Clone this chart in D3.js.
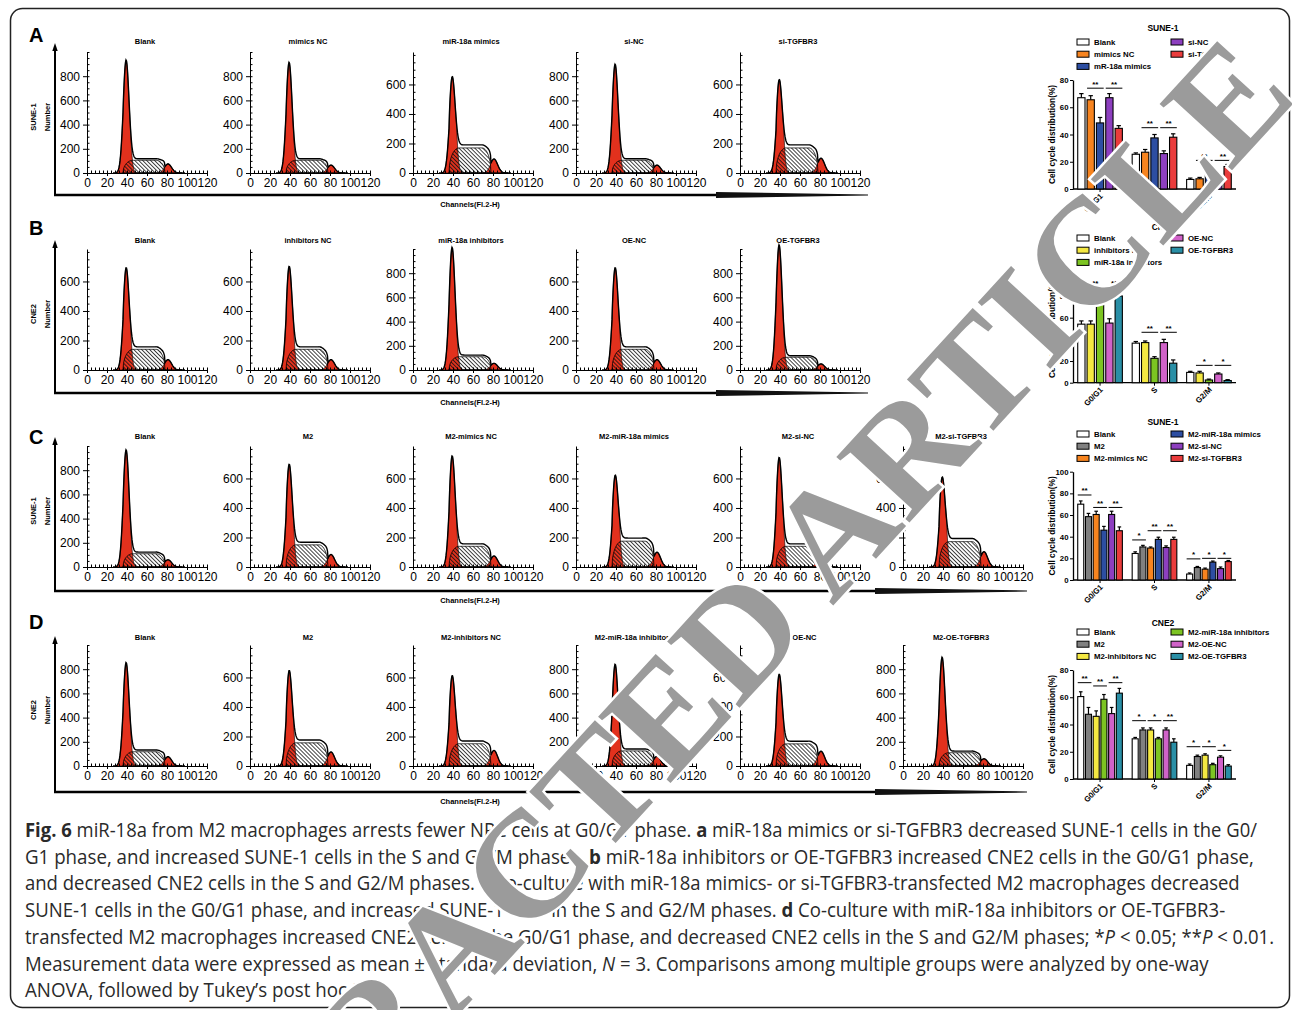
<!DOCTYPE html>
<html lang="en">
<head>
<meta charset="utf-8">
<title>Fig. 6</title>
<script src="https://cdn.jsdelivr.net/npm/d3@7"></script>
<style>
  body { margin: 0; background: #fff; }
  svg { display: block; }
</style>
</head>
<body>
<svg width="1292" height="1010"></svg>
<script>
// ---- flow cytometry histograms: titles, y-axis max, fitted component heights [G0/G1 peak, S plateau, G2/M peak]
var titlesA = ["Blank", "mimics NC", "miR-18a mimics", "si-NC", "si-TGFBR3"];
var titlesB = ["Blank", "inhibitors NC", "miR-18a inhibitors", "OE-NC", "OE-TGFBR3"];
var titlesC = ["Blank", "M2", "M2-mimics NC", "M2-miR-18a mimics", "M2-si-NC", "M2-si-TGFBR3"];
var titlesD = ["Blank", "M2", "M2-inhibitors NC", "M2-miR-18a inhibitors", "M2-OE-NC", "M2-OE-TGFBR3"];

var yMaxA = [1000, 1000, 820, 1000, 820];
var yMaxB = [820, 820, 1000, 820, 1000];
var yMaxC = [1000, 820, 820, 820, 820, 820];
var yMaxD = [1000, 820, 820, 1000, 820, 1000];

var peaksA = [[850, 105, 75], [830, 105, 65], [515, 170, 95], [815, 105, 65], [495, 170, 100]];
var peaksB = [[580, 140, 70], [590, 140, 70], [925, 110, 55], [580, 140, 70], [950, 105, 50]];
var peaksC = [[880, 110, 60], [575, 150, 85], [640, 140, 75], [480, 175, 100], [630, 140, 75], [470, 172, 104]];
var peaksD = [[760, 118, 77], [520, 157, 95], [490, 151, 106], [740, 125, 80], [500, 150, 100], [810, 110, 60]];

// ---- bar charts (cell cycle distribution %)
var phases = ["G0/G1", "S", "G2/M"];

var groupsA = ["Blank", "mimics NC", "mR-18a mimics", "si-NC", "si-TGFBR3"];
var colorsA = ["#ffffff", "#f7841f", "#2d4ea2", "#8d3fbf", "#ea3c3c"];
var meansA = [[67, 65.5, 48.5, 67, 44.5], [25.5, 27, 37.5, 26, 38], [7, 7.5, 14, 7, 16.5]];
var errsA = [[3, 3, 4, 3, 2], [1, 2, 2.5, 2, 2.5], [1, 1, 1.5, 1, 1.5]];
var sigsA = [[0, 1, 2, "**", 74], [0, 3, 4, "**", 74], [1, 1, 2, "**", 45], [1, 3, 4, "**", 45], [2, 1, 2, "**", 21], [2, 3, 4, "**", 21]];

var groupsB = ["Blank", "inhibitors NC", "miR-18a inhibitors", "OE-NC", "OE-TGFBR3"];
var colorsB = ["#ffffff", "#f4e842", "#7cc422", "#d062c8", "#2a8fa6"];
var meansB = [[54, 54, 75.5, 55, 80], [36.5, 37, 22.5, 37, 18], [9.5, 9, 2.5, 8, 2]];
var errsB = [[3, 3, 5, 4, 6], [1.5, 1.5, 1.5, 3, 3], [1, 1.5, 0.8, 1, 0.8]];
var sigsB = [[0, 1, 2, "**", 88], [0, 3, 4, "**", 88], [1, 1, 2, "**", 46.5], [1, 3, 4, "**", 46.5], [2, 1, 2, "*", 16], [2, 3, 4, "*", 16]];

var groupsC = ["Blank", "M2", "M2-mimics NC", "M2-miR-18a mimics", "M2-si-NC", "M2-si-TGFBR3"];
var colorsC = ["#ffffff", "#808080", "#f7841f", "#2d4ea2", "#8d3fbf", "#ea3c3c"];
var meansC = [[70, 58.5, 60.5, 46, 60.5, 45.5], [24.5, 30.5, 29.5, 37.5, 30, 37.5], [5.5, 11.5, 10, 16.5, 10.5, 17]];
var errsC = [[3, 3, 3, 3.5, 3, 3.5], [1.5, 1.5, 1, 2, 1.5, 2], [1, 1, 1, 1, 1.5, 1]];
var sigsC = [[0, 0, 1, "**", 78.5], [0, 2, 3, "**", 67], [0, 4, 5, "**", 67], [1, 0, 1, "*", 37], [1, 2, 3, "**", 45.5], [1, 4, 5, "**", 45.5], [2, 0, 1, "*", 19.5], [2, 2, 3, "*", 20], [2, 4, 5, "*", 20]];

var groupsD = ["Blank", "M2", "M2-inhibitors NC", "M2-miR-18a inhibitors", "M2-OE-NC", "M2-OE-TGFBR3"];
var colorsD = ["#ffffff", "#808080", "#f4e842", "#7cc422", "#d062c8", "#2a8fa6"];
var meansD = [[60.5, 47.5, 46, 58.5, 48, 63], [29.5, 36, 36, 29.5, 36, 27], [10, 16.5, 17.5, 10.5, 16, 9.5]];
var errsD = [[3.5, 5, 4, 3.5, 4.5, 3.5], [1, 1.5, 1.5, 1, 1.5, 2.5], [1, 1, 1, 1, 1, 1]];
var sigsD = [[0, 0, 1, "**", 70.7], [0, 2, 3, "**", 68.3], [0, 4, 5, "**", 70.7], [1, 0, 1, "*", 42.8], [1, 2, 3, "*", 42.8], [1, 4, 5, "**", 42.8], [2, 0, 1, "*", 23.7], [2, 2, 3, "*", 23.7], [2, 4, 5, "*", 21]];

var sans = "'Liberation Sans', Arial, sans-serif";
var red = "#e2311d";
var svg = d3.select("svg");

// hatch for the S-phase component
var pat = svg.append("defs").append("pattern")
    .attr("id", "hatch").attr("patternUnits", "userSpaceOnUse")
    .attr("width", 2.8).attr("height", 2.8).attr("patternTransform", "rotate(-45)");
pat.append("line").attr("x1", 1.4).attr("y1", 0).attr("x2", 1.4).attr("y2", 2.8)
    .attr("stroke", "#111").attr("stroke-width", 0.8);

// outer frame
svg.append("rect").attr("x", 10.5).attr("y", 8.5).attr("width", 1279).attr("height", 999)
    .attr("rx", 12).attr("fill", "none").attr("stroke", "#222").attr("stroke-width", 1.5);

// ModFit-like components
function g1f(c, h) { return h * Math.exp(-0.5 * Math.pow((c - 39) / 2.9, 2)); }
function g2f(c, h) { return h * Math.exp(-0.5 * Math.pow((c - 81) / 3.6, 2)); }
// S phase: rounded rise, plateau, rounded fall ending near channel 78
function sf(c, h) {
    if (c < 36 || c > 78) return 0;
    if (c < 46) return h * Math.sqrt(1 - Math.pow((46 - c) / 10, 2));
    if (c < 69) return h;
    return h * Math.sqrt(1 - Math.pow((c - 69) / 9, 2));
}

function styleAxis(a, size, weight) {
    a.attr("font-family", sans).attr("font-size", size);
    if (weight) a.attr("font-weight", weight);
    a.selectAll("line,path").attr("stroke", "#000");
}

function drawHist(px, base, titleY, title, pk, yMax) {
    var x = d3.scaleLinear().domain([0, 120]).range([px, px + 120]);
    var y = d3.scaleLinear().domain([0, yMax]).range([base, base - 121]);
    var g = svg.append("g");

    var comp = d3.range(26, 98.01, 0.5).map(function (c) {
        var a = g1f(c, pk[0]), s = sf(c, pk[1]), b = g2f(c, pk[2]);
        // red G0/G1 fill reaches the envelope near its peak
        var w = Math.min(1, a / (0.3 * pk[0]));
        return { c: c, g1: a + 1.12 * s * w, s: s, g2: b, tot: a + 1.12 * s + b };
    });
    function area(key) {
        return d3.area().x(function (d) { return x(d.c); }).y0(y(0)).y1(function (d) { return y(d[key]); });
    }
    g.append("path").datum(comp).attr("d", area("g2")).attr("fill", red).attr("stroke", "#000").attr("stroke-width", 0.6);
    g.append("path").datum(comp).attr("d", area("g1")).attr("fill", red).attr("stroke", "#000").attr("stroke-width", 0.6);
    g.append("path").datum(comp.filter(function (d) { return d.c >= 35.5 && d.c <= 78.5; }))
        .attr("d", area("s")).attr("fill", "url(#hatch)").attr("stroke", "#000").attr("stroke-width", 0.8);
    g.append("path").datum(comp.filter(function (d) { return d.c >= 28 && d.c <= 95; }))
        .attr("d", d3.line().x(function (d) { return x(d.c); }).y(function (d) { return y(d.tot); }))
        .attr("fill", "none").attr("stroke", "#000").attr("stroke-width", 1.4);

    // axes: major + minor ticks
    var xa = g.append("g").attr("transform", "translate(0," + base + ")")
        .call(d3.axisBottom(x).tickValues([0, 20, 40, 60, 80, 100, 120]).tickSize(3).tickSizeOuter(0).tickPadding(2));
    styleAxis(xa, 12);
    g.append("g").attr("transform", "translate(0," + base + ")")
        .call(d3.axisBottom(x).tickValues(d3.range(0, 121, 4)).tickSize(-2.5).tickFormat(""))
        .call(function (s) { s.select(".domain").remove(); s.selectAll("line").attr("stroke", "#000"); });
    var ya = g.append("g").attr("transform", "translate(" + px + ",0)")
        .call(d3.axisLeft(y).tickValues(d3.range(0, yMax - 100, 200)).tickSize(4).tickSizeOuter(0).tickPadding(3));
    styleAxis(ya, 12);
    g.append("g").attr("transform", "translate(" + px + ",0)")
        .call(d3.axisLeft(y).tickValues(d3.range(0, yMax + 1, 50)).tickSize(-2.5).tickFormat(""))
        .call(function (s) { s.select(".domain").remove(); s.selectAll("line").attr("stroke", "#000"); });

    g.append("text").attr("x", px + 58).attr("y", titleY).attr("text-anchor", "middle")
        .attr("font-family", sans).attr("font-size", 7.5).attr("font-weight", "bold").text(title);
}

var panelX = [87, 250, 413, 576, 740, 903];
var histRows = [
    { letter: "A", cell: "SUNE-1", titles: titlesA, peaks: peaksA, yMax: yMaxA, base: 173, titleY: 44, lineY: 195, lineEnd: 868, letterY: 42 },
    { letter: "B", cell: "CNE2", titles: titlesB, peaks: peaksB, yMax: yMaxB, base: 370, titleY: 243, lineY: 393, lineEnd: 868, letterY: 235 },
    { letter: "C", cell: "SUNE-1", titles: titlesC, peaks: peaksC, yMax: yMaxC, base: 567, titleY: 439, lineY: 591, lineEnd: 1027, letterY: 444 },
    { letter: "D", cell: "CNE2", titles: titlesD, peaks: peaksD, yMax: yMaxD, base: 766, titleY: 640, lineY: 792, lineEnd: 1027, letterY: 629 }
];

histRows.forEach(function (r) {
    r.titles.forEach(function (t, i) {
        drawHist(panelX[i], r.base, r.titleY, t, r.peaks[i], r.yMax[i]);
    });
    svg.append("text").attr("x", 29).attr("y", r.letterY).attr("font-family", sans)
        .attr("font-size", 20).attr("font-weight", "bold").text(r.letter);
    var cy = r.base - 56;
    svg.append("text").attr("transform", "translate(36," + cy + ") rotate(-90)").attr("text-anchor", "middle")
        .attr("font-family", sans).attr("font-size", 7.5).attr("font-weight", "bold").text(r.cell);
    svg.append("text").attr("transform", "translate(50," + cy + ") rotate(-90)").attr("text-anchor", "middle")
        .attr("font-family", sans).attr("font-size", 7.5).attr("font-weight", "bold").text("Number");
    // vertical arrow
    var top = r.base - 125;
    svg.append("line").attr("x1", 55).attr("x2", 55).attr("y1", r.lineY).attr("y2", top + 2)
        .attr("stroke", "#000").attr("stroke-width", 2);
    svg.append("path").attr("d", "M55," + (top - 5) + "L52.3," + (top + 3) + "L57.7," + (top + 3) + "Z").attr("fill", "#000");
    // long channel axis with tapering end
    svg.append("line").attr("x1", 54).attr("x2", r.lineEnd - 150).attr("y1", r.lineY).attr("y2", r.lineY)
        .attr("stroke", "#000").attr("stroke-width", 2.6);
    var e = r.lineEnd, ly = r.lineY;
    svg.append("path").attr("d", "M" + (e - 152) + "," + (ly - 2.9) + "L" + e + "," + (ly - 0.5) + "L" + e + "," + (ly + 0.5) + "L" + (e - 152) + "," + (ly + 2.9) + "Z")
        .attr("fill", "#111");
    svg.append("text").attr("x", 470).attr("y", r.lineY + 12).attr("text-anchor", "middle")
        .attr("font-family", sans).attr("font-size", 7.5).attr("font-weight", "bold").text("Channels(Fl.2-H)");
});

// ---- bar charts
function barChart(c) {
    var n = c.groups.length;
    var x0 = d3.scaleBand().domain(phases).range([1075, 1234]).paddingInner(0.18).paddingOuter(0.05);
    var x1 = d3.scaleBand().domain(d3.range(n)).range([0, x0.bandwidth()]).paddingInner(0.22);
    var y = d3.scaleLinear().domain([0, c.yMax]).range([c.y0, c.y1]);
    var g = svg.append("g").attr("font-family", sans).attr("font-weight", "bold");

    g.append("text").attr("x", 1163).attr("y", c.titleY).attr("text-anchor", "middle").attr("font-size", 8.5).text(c.title);

    c.groups.forEach(function (name, i) {
        var lx = i < 3 ? 1077 : 1171, ly = c.legY + (i % 3) * 12.2;
        g.append("rect").attr("x", lx).attr("y", ly - 3).attr("width", 12).attr("height", 6)
            .attr("fill", c.colors[i]).attr("stroke", "#000").attr("stroke-width", 1);
        g.append("text").attr("x", lx + 17).attr("y", ly + 3).attr("font-size", 7.8).text(name);
    });

    var ya = g.append("g").attr("transform", "translate(1073,0)")
        .call(d3.axisLeft(y).tickValues(d3.range(0, c.yMax + 1, 20)).tickSize(3).tickSizeOuter(0).tickPadding(1.5));
    styleAxis(ya, 7.8, "bold");
    ya.select(".domain").attr("stroke-width", 1.3);
    var xa = g.append("g").attr("transform", "translate(0," + c.y0 + ")")
        .call(d3.axisBottom(x0).tickSize(3).tickSizeOuter(0));
    styleAxis(xa, 7.8, "bold");
    xa.select(".domain").attr("d", "M1073,0H1236").attr("stroke-width", 1.3);
    xa.selectAll("text").attr("transform", "rotate(-45)").attr("text-anchor", "end")
        .attr("x", -3).attr("y", 5).attr("dy", "0.35em");

    g.append("text").attr("transform", "translate(1055," + ((c.y0 + c.y1) / 2) + ") rotate(-90)")
        .attr("text-anchor", "middle").attr("font-size", 8.3).text("Cell cycle distribution(%)");

    phases.forEach(function (p, pi) {
        c.means[pi].forEach(function (v, i) {
            var bx = x0(p) + x1(i), bw = x1.bandwidth(), cx = bx + bw / 2;
            g.append("line").attr("x1", cx).attr("x2", cx).attr("y1", y(v)).attr("y2", y(v + c.errs[pi][i]))
                .attr("stroke", "#000").attr("stroke-width", 1.2);
            g.append("line").attr("x1", cx - bw * 0.3).attr("x2", cx + bw * 0.3)
                .attr("y1", y(v + c.errs[pi][i])).attr("y2", y(v + c.errs[pi][i]))
                .attr("stroke", "#000").attr("stroke-width", 1.2);
            g.append("rect").attr("x", bx).attr("y", y(v)).attr("width", bw).attr("height", y(0) - y(v))
                .attr("fill", c.colors[i]).attr("stroke", "#000").attr("stroke-width", 1.1);
        });
    });

    c.sigs.forEach(function (s) {
        var p = phases[s[0]];
        var xa1 = x0(p) + x1(s[1]), xa2 = x0(p) + x1(s[2]) + x1.bandwidth();
        g.append("line").attr("x1", xa1).attr("x2", xa2).attr("y1", y(s[4])).attr("y2", y(s[4]))
            .attr("stroke", "#000").attr("stroke-width", 1);
        g.append("text").attr("x", (xa1 + xa2) / 2).attr("y", y(s[4]) - 1.5).attr("text-anchor", "middle")
            .attr("font-size", 8).text(s[3]);
    });
}

barChart({ title: "SUNE-1", titleY: 31, legY: 42, groups: groupsA, colors: colorsA, means: meansA, errs: errsA, sigs: sigsA, yMax: 80, y0: 189, y1: 80 });
barChart({ title: "CNE2", titleY: 230, legY: 238, groups: groupsB, colors: colorsB, means: meansB, errs: errsB, sigs: sigsB, yMax: 100, y0: 382.7, y1: 274.3 });
barChart({ title: "SUNE-1", titleY: 425, legY: 434, groups: groupsC, colors: colorsC, means: meansC, errs: errsC, sigs: sigsC, yMax: 100, y0: 580, y1: 471.7 });
barChart({ title: "CNE2", titleY: 626, legY: 632, groups: groupsD, colors: colorsD, means: meansD, errs: errsD, sigs: sigsD, yMax: 80, y0: 779, y1: 670 });

// ---- caption
var caption = [
    [["Fig. 6", "b"], [" miR-18a from M2 macrophages arrests fewer NPC cells at G0/G1 phase. "], ["a", "b"], [" miR-18a mimics or si-TGFBR3 decreased SUNE-1 cells in the G0/"]],
    [["G1 phase, and increased SUNE-1 cells in the S and G2/M phases. "], ["b", "b"], [" miR-18a inhibitors or OE-TGFBR3 increased CNE2 cells in the G0/G1 phase,"]],
    [["and decreased CNE2 cells in the S and G2/M phases. "], ["c", "b"], [" Co-culture with miR-18a mimics- or si-TGFBR3-transfected M2 macrophages decreased"]],
    [["SUNE-1 cells in the G0/G1 phase, and increased SUNE-1 cells in the S and G2/M phases. "], ["d", "b"], [" Co-culture with miR-18a inhibitors or OE-TGFBR3-"]],
    [["transfected M2 macrophages increased CNE2 cells in the G0/G1 phase, and decreased CNE2 cells in the S and G2/M phases; *"], ["P", "i"], [" < 0.05; **"], ["P", "i"], [" < 0.01."]],
    [["Measurement data were expressed as mean \u00b1 standard deviation, "], ["N", "i"], [" = 3. Comparisons among multiple groups were analyzed by one-way"]],
    [["ANOVA, followed by Tukey\u2019s post hoc test"]]
];
var captionEnd = [1258, 1254, 1240, 1226, 1275, 1210, 385];

caption.forEach(function (segs, li) {
    var g = svg.append("g").attr("transform", "translate(25," + (837 + li * 26.7) + ")");
    var t = g.append("text").attr("font-family", "'Open Sans', sans-serif").attr("font-size", 19.5).attr("fill", "#2a2a2a");
    segs.forEach(function (s) {
        var ts = t.append("tspan").text(s[0]);
        if (s[1] === "b") ts.attr("font-weight", "bold");
        if (s[1] === "i") ts.attr("font-style", "italic");
    });
    var w = t.node().getComputedTextLength();
    g.attr("transform", "translate(25," + (837 + li * 26.7) + ") scale(" + ((captionEnd[li] - 25) / w) + ",1)");
});

// ---- watermark
svg.append("text")
    .attr("transform", "translate(694,682) rotate(-47.5)")
    .attr("text-anchor", "middle").attr("dominant-baseline", "central")
    .attr("font-family", "'Liberation Serif', serif").attr("font-size", 150).attr("font-weight", "bold")
    .attr("textLength", 1680).attr("lengthAdjust", "spacingAndGlyphs")
    .attr("fill", "#9b9b9b").attr("stroke", "#fff").attr("stroke-width", 5).attr("paint-order", "stroke")
    .text("RETRACTED ARTICLE");
</script>
</body>
</html>
